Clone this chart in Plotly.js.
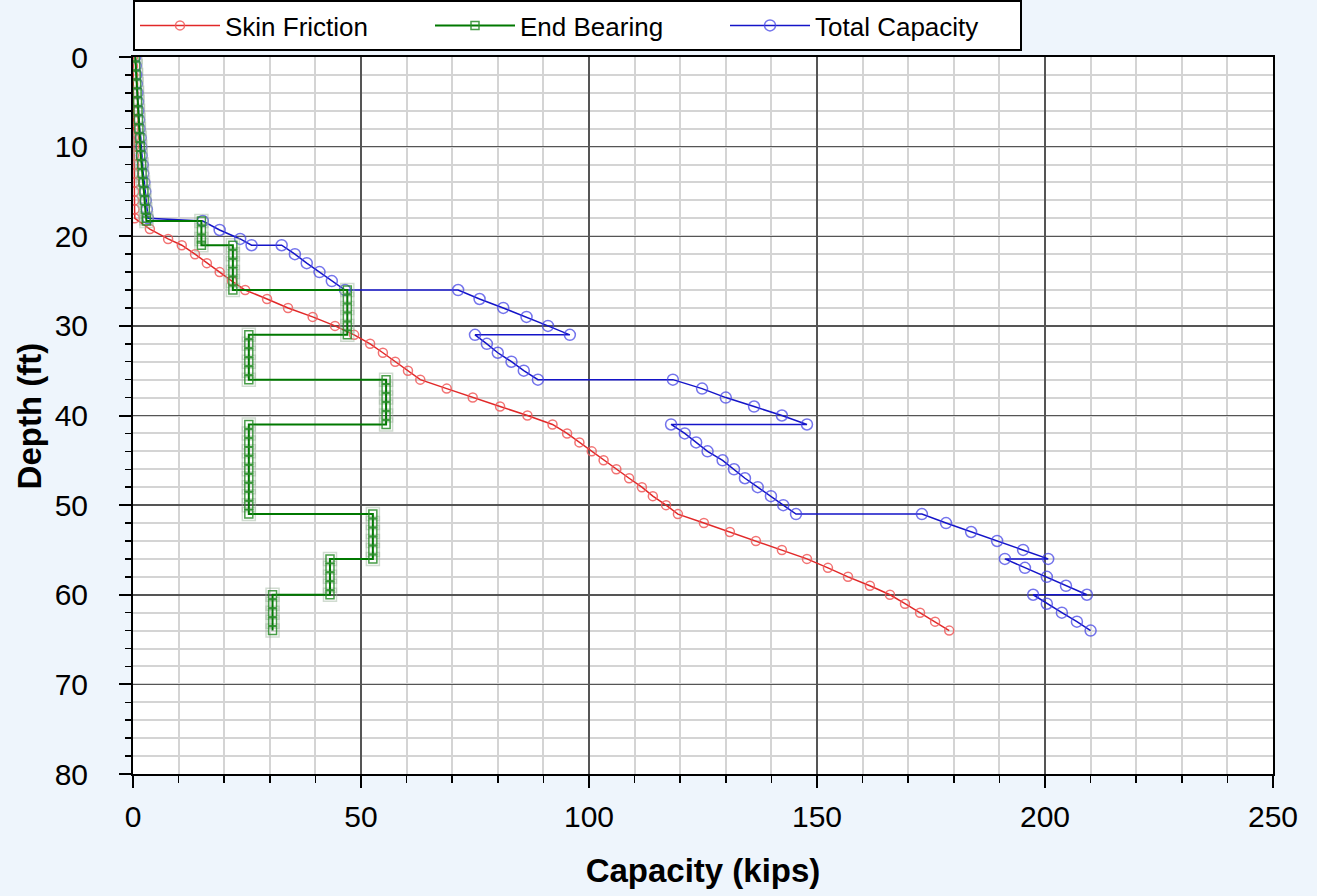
<!DOCTYPE html>
<html>
<head>
<meta charset="utf-8">
<script src="https://cdn.plot.ly/plotly-3.0.1.min.js"></script>
<style>
  html, body { margin: 0; padding: 0; background: #eef5fc; }
  #chart { width: 1317px; height: 896px; }
</style>
</head>
<body>
<div id="chart"></div>
<script>
// ---- Data ----
const seriesNames = ["Skin Friction", "End Bearing", "Total Capacity"];

// Skin Friction (kips) vs depth (ft)
const skinDepth = [0,1,2,3,4,5,6,7,8,9,10,11,12,13,14,15,16,17,18,
  19.2,20.3,21,22,23,24,25,26,27,28,29,30,31,32,33,34,35,36,37,38,39,40,
  41,42,43,44,45,46,47,48,49,50,51,52,53,54,55,56,57,58,59,60,61,62,63,64];
const skinCap = [0,0,0.05,0.05,0.1,0.1,0.1,0.15,0.15,0.2,0.2,0.2,0.25,0.25,0.3,0.3,0.3,0.35,0.4,
  3.7,7.7,10.7,13.6,16.2,19,21.7,24.6,29.4,34,39.4,44.3,48.5,52,54.8,57.5,60.3,63,68.8,74.5,80.5,86.5,
  92,95.2,97.9,100.6,103.2,106,108.8,111.6,114,116.9,119.5,125.2,130.9,136.6,142.3,147.8,152.4,156.8,161.6,166,169.3,172.6,175.9,179];

// End Bearing (kips) vs depth (ft)
const endDepth = [0,1,2,3,4,5,6,7,8,9,10,11,12,13,14,15,16,17,18,18.3,
  18.3,19.3,20.3,21,
  21,22,23,24,25,26,
  26,27,28,29,30,31,
  31,32,33,34,35,36,
  36,37,38,39,40,41,
  41,42,43,44,45,46,47,48,49,50,51,
  51,52,53,54,55,56,
  56,57,58,59,60,
  60,61,62,63,64];
const endCap = [0.5,0.6,0.7,0.8,0.9,1.0,1.1,1.2,1.3,1.5,1.6,1.7,1.9,2.0,2.2,2.4,2.5,2.7,2.9,2.95,
  15,15,15,15,
  21.9,21.9,21.9,21.9,21.9,21.9,
  47,47,47,47,47,47,
  25.4,25.4,25.4,25.4,25.4,25.4,
  55.5,55.5,55.5,55.5,55.5,55.5,
  25.4,25.4,25.4,25.4,25.4,25.4,25.4,25.4,25.4,25.4,25.4,
  52.6,52.6,52.6,52.6,52.6,52.6,
  43.2,43.2,43.2,43.2,43.2,
  30.6,30.6,30.6,30.6,30.6];

// Total Capacity (kips) vs depth (ft)
const totalDepth = [0,1,2,3,4,5,6,7,8,9,10,11,12,13,14,15,16,17,18,
  18.3,19.3,20.3,21,
  21,22,23,24,25,26,
  26,27,28,29,30,31,
  31,32,33,34,35,36,
  36,37,38,39,40,41,
  41,42,43,44,45,46,47,48,49,50,51,
  51,52,53,54,55,56,
  56,57,58,59,60,
  60,61,62,63,64];
const totalCap = [0.5,0.6,0.75,0.85,1.0,1.1,1.2,1.35,1.45,1.7,1.8,1.9,2.15,2.25,2.5,2.7,2.8,3.05,3.3,
  15.3,19,23.5,26,
  32.6,35.5,38.1,40.9,43.6,46.5,
  71.3,76,81.2,86.3,91,95.8,
  75,77.6,80,83,85.7,88.8,
  118.4,124.8,130,136.2,142.3,147.8,
  118,121,123.5,126,129.3,131.8,134.2,137,139.9,142.6,145.4,
  173,178.3,183.8,189.5,195.2,200.7,
  191.2,195.6,200.4,204.6,209.2,
  197.4,200.4,203.7,207,210];

// Axis ticks and titles
const xTicks = [0, 50, 100, 150, 200, 250];
const yTicks = [0, 10, 20, 30, 40, 50, 60, 70, 80];
const xTitle = "Capacity (kips)";
const yTitle = "Depth (ft)";

const FONT = "Liberation Sans, Arial, sans-serif";
const PAD = "\u00a0\u00a0\u00a0";

const traces = [
  {
    name: seriesNames[2], x: totalCap, y: totalDepth, type: "scatter", mode: "lines+markers",
    legendrank: 3,
    line: { color: "rgb(20,20,200)", width: 1.5 },
    marker: { symbol: "circle-open", size: 11, color: "rgba(70,70,230,0.75)", line: { width: 1.5 } }
  },
  {
    name: seriesNames[0], x: skinCap, y: skinDepth, type: "scatter", mode: "lines+markers",
    legendrank: 1,
    line: { color: "rgb(225,40,40)", width: 1.5 },
    marker: { symbol: "circle-open", size: 9, color: "rgba(240,90,90,0.85)", line: { width: 1.5 } }
  },
  {
    // soft halo behind the End Bearing markers
    name: seriesNames[1], x: endCap, y: endDepth, type: "scatter", mode: "markers",
    showlegend: false, hoverinfo: "skip",
    marker: { symbol: "square-open", size: 13, color: "rgba(150,175,150,0.45)", line: { width: 1.5 } }
  },
  {
    name: seriesNames[1], x: endCap, y: endDepth, type: "scatter", mode: "lines+markers",
    legendrank: 2,
    line: { color: "rgb(0,120,0)", width: 2 },
    marker: { symbol: "square-open", size: 8, color: "rgba(40,140,40,0.85)", line: { width: 1.5 } }
  }
];

const layout = {
  width: 1317, height: 896,
  paper_bgcolor: "#eef5fc",
  plot_bgcolor: "#ffffff",
  margin: { l: 133, r: 44, t: 57, b: 122, autoexpand: false },
  font: { family: FONT, color: "#000" },
  showlegend: true,
  legend: {
    orientation: "h", x: 0, xanchor: "left", y: 1.0795, yanchor: "top",
    bgcolor: "#ffffff", bordercolor: "#000000", borderwidth: 2,
    font: { family: FONT, size: 26, color: "#000" },
    itemwidth: 80,
    entrywidth: 200, entrywidthmode: "pixels"
  },
  xaxis: {
    range: [0, 250], tickmode: "array", tickvals: xTicks, ticktext: xTicks.map(String),
    showline: true, linecolor: "#000", linewidth: 2, mirror: true,
    ticks: "outside", ticklen: 12, tickwidth: 2, tickcolor: "#000",
    ticklabelstandoff: 3,
    tickfont: { family: FONT, size: 30, color: "#000" },
    showgrid: true, gridcolor: "#555555", gridwidth: 1.5,
    zeroline: false,
    minor: { dtick: 10, showgrid: true, gridcolor: "#d4d4d4", gridwidth: 2, ticks: "outside", ticklen: 7, tickcolor: "#000", tickwidth: 1.5 },
    title: { text: "<b>" + xTitle + "</b>", font: { family: FONT, size: 33, color: "#000" }, standoff: 27 }
  },
  yaxis: {
    range: [80, 0], tickmode: "array", tickvals: yTicks, ticktext: yTicks.map(v => String(v) + PAD),
    showline: true, linecolor: "#000", linewidth: 2, mirror: true,
    ticks: "outside", ticklen: 12, tickwidth: 2, tickcolor: "#000",
    tickfont: { family: FONT, size: 30, color: "#000" },
    showgrid: true, gridcolor: "#555555", gridwidth: 1.5,
    zeroline: false,
    minor: { dtick: 2, showgrid: true, gridcolor: "#d4d4d4", gridwidth: 2, ticks: "outside", ticklen: 6, tickcolor: "#000", tickwidth: 1.5 }
  },
  annotations: [
    {
      text: "<b>" + yTitle + "</b>", xref: "paper", yref: "paper",
      x: -0.0904, y: 0.5, xanchor: "center", yanchor: "middle",
      textangle: -90, showarrow: false,
      font: { family: FONT, size: 33, color: "#000" }
    }
  ]
};

Plotly.newPlot("chart", traces, layout, { displayModeBar: false, staticPlot: true });
</script>
</body>
</html>
